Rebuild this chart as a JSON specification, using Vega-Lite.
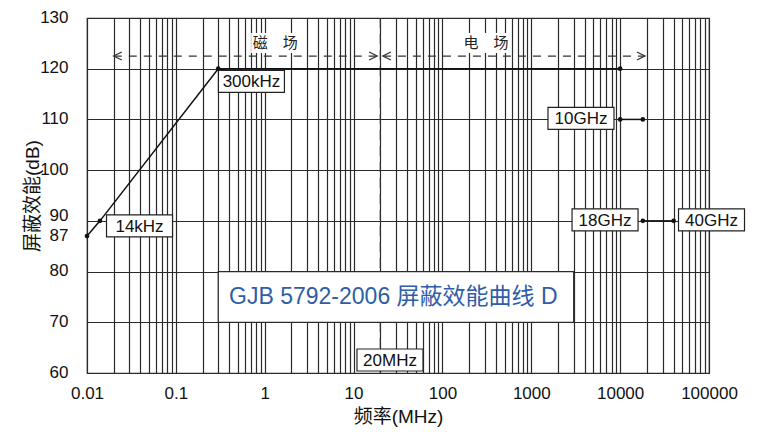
{
  "$schema": "https://vega.github.io/schema/vega-lite/v6.json",
  "width": 622,
  "height": 355,
  "autosize": {"type": "none"},
  "padding": {"left": 87, "top": 18, "right": 56, "bottom": 59},
  "background": "white",
  "config": {
    "view": {"stroke": "#333", "strokeWidth": 1.2},
    "font": "Liberation Sans, Noto Sans CJK SC"
  },
  "datasets": {
    "curve": [
      {"f": 0.01, "db": 87, "seg": "a"},
      {"f": 0.014, "db": 90, "seg": "a"},
      {"f": 0.3, "db": 120, "seg": "a"},
      {"f": 10000, "db": 120, "seg": "a"},
      {"f": 10000, "db": 110, "seg": "b"},
      {"f": 18000, "db": 110, "seg": "b"},
      {"f": 18000, "db": 90, "seg": "c"},
      {"f": 40000, "db": 90, "seg": "c"}
    ],
    "labels": [
      {"f": 0.709, "db": 117.5, "t": "300kHz"},
      {"f": 0.039, "db": 89.0, "t": "14kHz"},
      {"f": 3624, "db": 110.2, "t": "10GHz"},
      {"f": 6761, "db": 90.2, "t": "18GHz"},
      {"f": 106700, "db": 90.2, "t": "40GHz"},
      {"f": 25.7, "db": 62.56, "t": "20MHz"}
    ],
    "fields": [
      {"f": 1.31, "db": 125.07, "t": "磁　场"},
      {"f": 309, "db": 125.07, "t": "电　场"}
    ],
    "arrowLines": [
      {"f": 0.02, "db": 122.5, "seg": "m"},
      {"f": 18.4, "db": 122.5, "seg": "m"},
      {"f": 21.4, "db": 122.5, "seg": "e"},
      {"f": 19000, "db": 122.5, "seg": "e"}
    ],
    "arrowLeft": [
      {"f": 0.02, "db": 122.5},
      {"f": 21.4, "db": 122.5}
    ],
    "arrowRight": [
      {"f": 18.4, "db": 122.5},
      {"f": 19000, "db": 122.5}
    ],
    "split": [
      {"f": 20, "db": 130, "db2": 60}
    ],
    "titleBox": [
      {"f": 0.3, "f2": 3000, "db": 70, "db2": 80}
    ],
    "titleText": [
      {"f": 28, "db": 75, "t": "GJB 5792-2006 屏蔽效能曲线 D"}
    ]
  },
  "encoding": {
    "x": {
      "field": "f",
      "type": "quantitative",
      "scale": {"type": "log", "domain": [0.01, 100000], "nice": false},
      "axis": {
        "values": [0.01, 0.02, 0.03, 0.04, 0.05, 0.06, 0.07, 0.08, 0.09,
                   0.1, 0.2, 0.3, 0.4, 0.5, 0.6, 0.7, 0.8, 0.9,
                   1, 2, 3, 4, 5, 6, 7, 8, 9,
                   10, 20, 30, 40, 50, 60, 70, 80, 90,
                   100, 200, 300, 400, 500, 600, 700, 800, 900,
                   1000, 2000, 3000, 4000, 5000, 6000, 7000, 8000, 9000,
                   10000, 20000, 30000, 40000, 50000, 60000, 70000, 80000, 90000,
                   100000],
        "labelExpr": "indexof([0.01,0.1,1,10,100,1000,10000,100000], datum.value) >= 0 ? format(datum.value, '~g') : ''",
        "grid": true,
        "gridColor": "#2a2a2a",
        "gridWidth": 1.2,
        "gridOpacity": 1,
        "ticks": false,
        "domain": false,
        "labelFont": "Liberation Sans",
        "labelFontSize": 17,
        "labelColor": "#111",
        "labelPadding": 12,
        "labelFlush": false,
        "labelOverlap": false,
        "labelBound": false,
        "labelDx": 4,
        "title": "频率(MHz)",
        "titleFont": "Liberation Sans, Noto Sans CJK SC",
        "titleFontSize": 19,
        "titleFontWeight": "normal",
        "titleColor": "#111",
        "titlePadding": 6
      }
    },
    "y": {
      "field": "db",
      "type": "quantitative",
      "scale": {"domain": [60, 130], "nice": false, "zero": false},
      "axis": {
        "values": [60, 70, 80, 87, 90, 100, 110, 120, 130],
        "grid": true,
        "gridColor": "#2a2a2a",
        "gridWidth": 1.2,
        "gridOpacity": {"condition": {"test": "datum.value === 87", "value": 0}, "value": 1},
        "ticks": false,
        "domain": false,
        "labelFont": "Liberation Sans",
        "labelFontSize": 17,
        "labelColor": "#111",
        "labelPadding": 19,
        "labelOffset": {"condition": {"test": "datum.value === 90", "value": -5}, "value": -1},
        "labelOverlap": false,
        "labelBound": false,
        "title": "屏蔽效能(dB)",
        "titleFont": "Liberation Sans, Noto Sans CJK SC",
        "titleFontSize": 19,
        "titleFontWeight": "normal",
        "titleColor": "#111",
        "titlePadding": -3
      }
    }
  },
  "layer": [
    {
      "data": {"name": "split"},
      "mark": {"type": "rule", "color": "#333", "strokeWidth": 1.2, "strokeDash": [10, 6]},
      "encoding": {"y2": {"field": "db2"}}
    },
    {
      "data": {"name": "titleBox"},
      "mark": {"type": "rect", "fill": "white", "stroke": "#2a2a2a", "strokeWidth": 1.2},
      "encoding": {"x2": {"field": "f2"}, "y2": {"field": "db2"}}
    },
    {
      "data": {"name": "titleText"},
      "mark": {"type": "text", "font": "Liberation Sans, Noto Sans CJK SC", "fontSize": 23, "color": "#2F5DA8", "align": "center", "baseline": "middle"},
      "encoding": {"text": {"field": "t"}}
    },
    {
      "data": {"name": "fields"},
      "mark": {"type": "point", "shape": "M-1.2,-0.5H1.2V0.5H-1.2Z", "size": 1600, "filled": true, "fill": "white", "opacity": 1, "strokeWidth": 0}
    },
    {
      "data": {"name": "fields"},
      "mark": {"type": "text", "font": "Noto Sans CJK SC", "fontSize": 15, "color": "#222", "align": "center", "baseline": "middle"},
      "encoding": {"text": {"field": "t"}}
    },
    {
      "data": {"name": "arrowLines"},
      "mark": {"type": "line", "color": "#333", "strokeWidth": 1.2, "strokeDash": [8, 7]},
      "encoding": {"detail": {"field": "seg"}}
    },
    {
      "data": {"name": "arrowLeft"},
      "mark": {"type": "point", "shape": "M2,-1L0,0L2,1", "size": 64, "filled": false, "stroke": "#333", "strokeWidth": 1.3, "opacity": 1}
    },
    {
      "data": {"name": "arrowRight"},
      "mark": {"type": "point", "shape": "M-2,-1L0,0L-2,1", "size": 64, "filled": false, "stroke": "#333", "strokeWidth": 1.3, "opacity": 1}
    },
    {
      "data": {"name": "curve"},
      "mark": {"type": "line", "color": "#111", "strokeWidth": 1.5},
      "encoding": {"detail": {"field": "seg"}}
    },
    {
      "data": {"name": "curve"},
      "mark": {"type": "point", "shape": "circle", "size": 22, "filled": true, "color": "#111", "opacity": 1}
    },
    {
      "data": {"name": "labels"},
      "mark": {"type": "point", "shape": "M-3,-1H3V1H-3Z", "size": 484, "filled": true, "fill": "white", "stroke": "#222", "strokeWidth": 1.2, "opacity": 1, "clip": false}
    },
    {
      "data": {"name": "labels"},
      "mark": {"type": "text", "font": "Liberation Sans", "fontSize": 17, "color": "#111", "align": "center", "baseline": "middle", "dy": 1, "clip": false},
      "encoding": {"text": {"field": "t"}}
    }
  ]
}
